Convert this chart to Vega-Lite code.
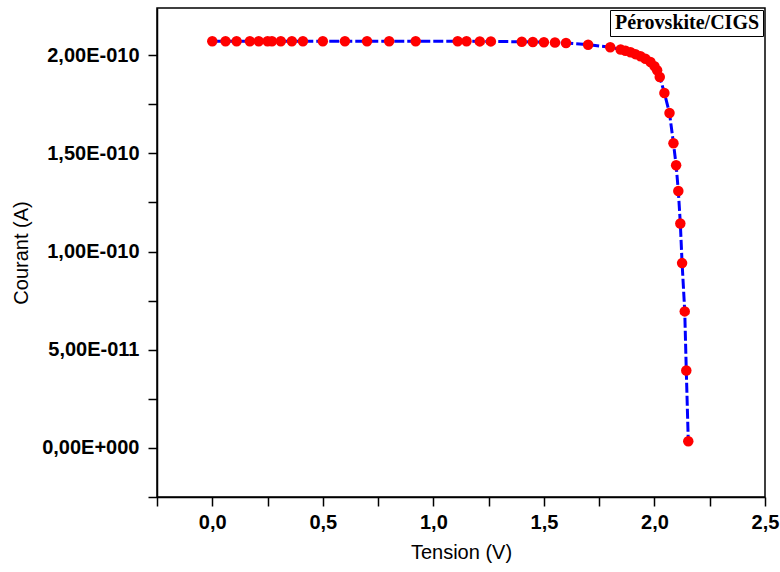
{
  "$schema": "https://vega.github.io/schema/vega-lite/v6.json",
  "width": 608,
  "height": 489,
  "autosize": {"type": "none"},
  "padding": {"left": 157, "top": 8, "right": 15, "bottom": 75},
  "background": "white",
  "config": {
    "view": {"stroke": "black", "strokeWidth": 1.5},
    "axis": {
      "domainColor": "black",
      "domainWidth": 1.5,
      "tickColor": "black",
      "tickWidth": 1.5,
      "tickSize": 9,
      "grid": false,
      "labelFont": "Liberation Sans",
      "labelFontWeight": "bold",
      "labelFontSize": 20,
      "labelColor": "black",
      "titleFont": "Liberation Sans",
      "titleFontWeight": "normal",
      "titleFontSize": 20,
      "titleColor": "black"
    }
  },
  "data": {
    "values": [
      {"V": 0.0, "I": 2.071e-10, "s": "Pérovskite/CIGS"},
      {"V": 0.06, "I": 2.071e-10, "s": "Pérovskite/CIGS"},
      {"V": 0.11, "I": 2.071e-10, "s": "Pérovskite/CIGS"},
      {"V": 0.17, "I": 2.071e-10, "s": "Pérovskite/CIGS"},
      {"V": 0.21, "I": 2.071e-10, "s": "Pérovskite/CIGS"},
      {"V": 0.25, "I": 2.071e-10, "s": "Pérovskite/CIGS"},
      {"V": 0.27, "I": 2.071e-10, "s": "Pérovskite/CIGS"},
      {"V": 0.31, "I": 2.071e-10, "s": "Pérovskite/CIGS"},
      {"V": 0.36, "I": 2.071e-10, "s": "Pérovskite/CIGS"},
      {"V": 0.41, "I": 2.071e-10, "s": "Pérovskite/CIGS"},
      {"V": 0.5, "I": 2.071e-10, "s": "Pérovskite/CIGS"},
      {"V": 0.6, "I": 2.071e-10, "s": "Pérovskite/CIGS"},
      {"V": 0.7, "I": 2.071e-10, "s": "Pérovskite/CIGS"},
      {"V": 0.8, "I": 2.071e-10, "s": "Pérovskite/CIGS"},
      {"V": 0.92, "I": 2.071e-10, "s": "Pérovskite/CIGS"},
      {"V": 1.11, "I": 2.071e-10, "s": "Pérovskite/CIGS"},
      {"V": 1.15, "I": 2.071e-10, "s": "Pérovskite/CIGS"},
      {"V": 1.21, "I": 2.07e-10, "s": "Pérovskite/CIGS"},
      {"V": 1.26, "I": 2.07e-10, "s": "Pérovskite/CIGS"},
      {"V": 1.4, "I": 2.068e-10, "s": "Pérovskite/CIGS"},
      {"V": 1.45, "I": 2.067e-10, "s": "Pérovskite/CIGS"},
      {"V": 1.5, "I": 2.066e-10, "s": "Pérovskite/CIGS"},
      {"V": 1.55, "I": 2.064e-10, "s": "Pérovskite/CIGS"},
      {"V": 1.6, "I": 2.062e-10, "s": "Pérovskite/CIGS"},
      {"V": 1.7, "I": 2.053e-10, "s": "Pérovskite/CIGS"},
      {"V": 1.8, "I": 2.04e-10, "s": "Pérovskite/CIGS"},
      {"V": 1.847, "I": 2.029e-10, "s": "Pérovskite/CIGS"},
      {"V": 1.869, "I": 2.022e-10, "s": "Pérovskite/CIGS"},
      {"V": 1.892, "I": 2.015e-10, "s": "Pérovskite/CIGS"},
      {"V": 1.914, "I": 2.005e-10, "s": "Pérovskite/CIGS"},
      {"V": 1.937, "I": 1.994e-10, "s": "Pérovskite/CIGS"},
      {"V": 1.959, "I": 1.982e-10, "s": "Pérovskite/CIGS"},
      {"V": 1.982, "I": 1.965e-10, "s": "Pérovskite/CIGS"},
      {"V": 2.0, "I": 1.944e-10, "s": "Pérovskite/CIGS"},
      {"V": 2.012, "I": 1.923e-10, "s": "Pérovskite/CIGS"},
      {"V": 2.024, "I": 1.889e-10, "s": "Pérovskite/CIGS"},
      {"V": 2.045, "I": 1.807e-10, "s": "Pérovskite/CIGS"},
      {"V": 2.068, "I": 1.705e-10, "s": "Pérovskite/CIGS"},
      {"V": 2.086, "I": 1.551e-10, "s": "Pérovskite/CIGS"},
      {"V": 2.098, "I": 1.439e-10, "s": "Pérovskite/CIGS"},
      {"V": 2.108, "I": 1.308e-10, "s": "Pérovskite/CIGS"},
      {"V": 2.117, "I": 1.143e-10, "s": "Pérovskite/CIGS"},
      {"V": 2.125, "I": 9.41e-11, "s": "Pérovskite/CIGS"},
      {"V": 2.137, "I": 6.95e-11, "s": "Pérovskite/CIGS"},
      {"V": 2.144, "I": 3.94e-11, "s": "Pérovskite/CIGS"},
      {"V": 2.153, "I": 3.4e-12, "s": "Pérovskite/CIGS"}
    ]
  },
  "encoding": {
    "x": {
      "field": "V",
      "type": "quantitative",
      "scale": {"domain": [-0.25, 2.5], "nice": false, "zero": false},
      "axis": {
        "title": "Tension (V)",
        "values": [-0.25, 0, 0.25, 0.5, 0.75, 1, 1.25, 1.5, 1.75, 2, 2.25, 2.5],
        "labelExpr": "abs(datum.value*2 - round(datum.value*2)) < 0.001 && datum.value >= 0 ? replace(format(datum.value, '.1f'), '.', ',') : ''",
        "labelPadding": 6,
        "titlePadding": 10,
        "labelFlush": false,
        "labelOverlap": false,
        "encode": {
          "ticks": {
            "update": {
              "y2": {"signal": "abs(datum.value*2 - round(datum.value*2)) < 0.001 ? 9 : 5"}
            }
          }
        }
      }
    },
    "y": {
      "field": "I",
      "type": "quantitative",
      "scale": {"domain": [-2.5e-11, 2.24e-10], "nice": false, "zero": false},
      "axis": {
        "title": "Courant (A)",
        "values": [-2.5e-11, 0, 2.5e-11, 5e-11, 7.5e-11, 1e-10, 1.25e-10, 1.5e-10, 1.75e-10, 2e-10],
        "labelExpr": "round(datum.value*10000000000000) == 0 ? '0,00E+000' : round(datum.value*10000000000000) == 500 ? '5,00E-011' : round(datum.value*10000000000000) == 1000 ? '1,00E-010' : round(datum.value*10000000000000) == 1500 ? '1,50E-010' : round(datum.value*10000000000000) == 2000 ? '2,00E-010' : ''",
        "labelPadding": 9,
        "titlePadding": 10,
        "labelFlush": false,
        "labelOverlap": false,
        "encode": {
          "ticks": {
            "update": {
              "x2": {"signal": "round(datum.value*10000000000000) % 500 == 0 ? -9 : -5"}
            }
          }
        }
      }
    }
  },
  "layer": [
    {
      "mark": {"type": "line", "color": "#0000ff", "strokeWidth": 3, "strokeDash": [10, 3]},
      "encoding": {}
    },
    {
      "mark": {"type": "circle", "size": 110, "opacity": 1},
      "encoding": {
        "color": {
          "field": "s",
          "type": "nominal",
          "scale": {"range": ["#ff0000"]},
          "legend": {
            "title": null,
            "orient": "top-right",
            "offset": 2,
            "strokeColor": "black",
            "fillColor": "white",
            "padding": 3,
            "symbolSize": 0,
            "symbolOpacity": 0,
            "labelOffset": -18,
            "labelFont": "Liberation Serif",
            "labelFontWeight": "bold",
            "labelFontSize": 20,
            "labelColor": "black",
            "labelLimit": 300
          }
        }
      }
    }
  ]
}
